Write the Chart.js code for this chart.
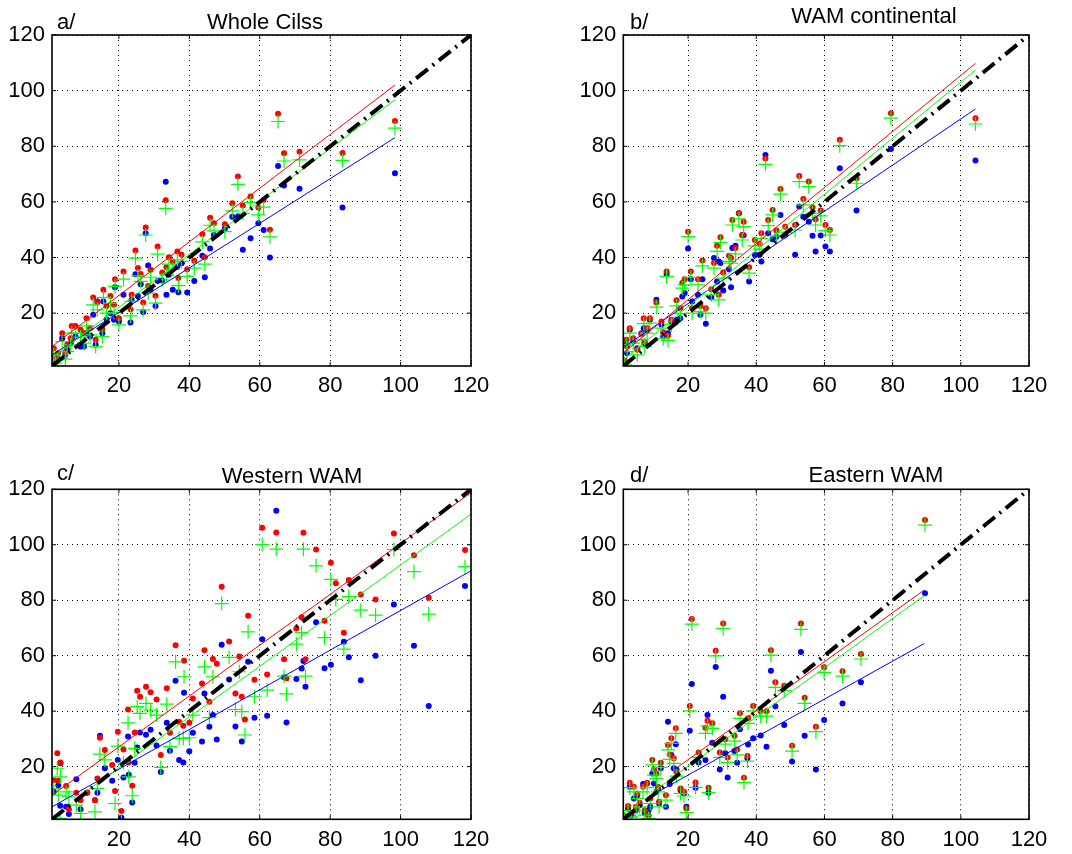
<!DOCTYPE html>
<html>
<head>
<meta charset="utf-8">
<script src="https://cdn.jsdelivr.net/npm/chart.js@4.4.1/dist/chart.umd.min.js"></script>
<style>
  body { margin: 0; background: #fff; }
  #wrap { position: relative; width: 1072px; height: 854px; }
  canvas { position: absolute; }
</style>
</head>
<body>
<div id="wrap">
  <canvas id="chartA" width="536" height="427" style="left:0px;top:0px"></canvas>
  <canvas id="chartB" width="536" height="427" style="left:536px;top:0px"></canvas>
  <canvas id="chartC" width="536" height="427" style="left:0px;top:427px"></canvas>
  <canvas id="chartD" width="536" height="427" style="left:536px;top:427px"></canvas>
</div>
<script>
const tickValues = [20, 40, 60, 80, 100, 120];
const diagX = [1, 120];

// a/ Whole Cilss
const xA = [98.4, 65.2, 66.9, 71.3, 83.5, 53.8, 33.3, 27.6, 62.9, 61.1, 59.6, 57.4, 55.2, 52.2, 50.1, 47, 45.9, 43.7, 44.4, 41.4, 39.4, 37.8, 36.6, 36.9, 35.3, 34.2, 33.5, 32.3, 31, 30.4, 29, 28.3, 26.9, 26.2, 25.4, 24.7, 23.6, 23.3, 21.3, 18.9, 17.6, 20, 15.6, 12.7, 13.9, 16.5, 18.6, 15.3, 13.4, 10.8, 11.8, 9.1, 7.7, 6.6, 5.3, 3.9, 2.7, 1.5, 4.8, 6.3, 10.1, 2];
const redA = [89.1, 91.7, 77.5, 78, 77.6, 69.1, 60.6, 50.8, 50, 60.7, 58, 61.9, 58.7, 59.5, 52, 52.3, 54.3, 48.4, 40.1, 38.8, 35.8, 41, 42.2, 32.6, 38.6, 40.1, 36.5, 34.6, 44, 26.3, 35.6, 29.8, 23.8, 34.1, 36.2, 42.5, 26.6, 21.4, 35, 32.2, 26.2, 18.2, 28.4, 25.6, 23.8, 22.6, 23, 14.3, 10.4, 18.2, 14.6, 14, 15.4, 15.4, 8.6, 12.8, 5.6, 7.4, 5.9, 11, 12.8, 4.4];
const greenA = [86.5, 88.9, 74.7, 75.1, 74.9, 66.3, 57.7, 48.1, 47.4, 58.1, 55.3, 59.8, 55.9, 56.8, 49.3, 49.6, 51.6, 45.6, 37.6, 36.2, 33.2, 38.6, 39.2, 29.9, 35.8, 37.6, 33.8, 32, 41.2, 23.6, 32.9, 27.2, 21.2, 31.4, 33.4, 39.8, 24.2, 19, 32.2, 29.6, 23.6, 15.8, 25.6, 23, 21.2, 20, 20.2, 11.6, 8, 15.4, 12.2, 11.4, 12.8, 12.8, 6.2, 9.8, 3.2, 5, 3.5, 8.6, 9.2, 2];
const blueA = [70.3, 72.9, 65.9, 64.7, 58, 54.7, 67.2, 48.7, 40, 49.9, 52.3, 46.9, 42.8, 54.7, 50.4, 48.1, 43.2, 40.6, 32.9, 31.6, 27.4, 37.9, 36.8, 27.5, 28.4, 33.8, 26.6, 31.7, 31.6, 22.6, 28.4, 37.1, 20.4, 30.4, 26.2, 34, 24.8, 16.6, 26.6, 29.3, 20, 17, 24.2, 19.4, 24.2, 17.8, 17.6, 12.8, 8.6, 12.8, 11.6, 8, 11.6, 10.4, 6.8, 11, 3.5, 4.4, 5, 9.2, 8, 2.6];
const fitRedA = [[1, 8], [98.4, 102]];
const fitGreenA = [[1, 4], [98.4, 96.7]];
const fitBlueA = [[1, 5], [98.4, 83.1]];

// b/ WAM continental
const xB = [104.3, 79.5, 64.5, 69.4, 42.7, 52.6, 55.4, 47.1, 53.8, 56.5, 58.9, 57.4, 60.3, 61.6, 51.4, 48.5, 45.9, 44.8, 43.5, 41.5, 41, 39.6, 37.9, 35.9, 34.9, 33, 36.3, 33.9, 32, 32.6, 30.3, 29.5, 28.5, 27.6, 29, 26.8, 24.2, 22.9, 23.6, 25.2, 20.8, 21.2, 20, 19, 18.3, 16.6, 17.7, 13.7, 10.7, 15.1, 14.1, 12.2, 12.7, 8.8, 7, 8, 6.3, 5.1, 3.9, 2.9, 1.9, 1.4, 2.1, 7.3];
const redB = [90.1, 91.9, 82.3, 68.5, 75.6, 69.3, 67.3, 64.6, 61, 58.1, 56.9, 53.8, 51.7, 49.9, 51.7, 51.1, 49.7, 57.1, 53.5, 48.7, 44.9, 46.3, 36.5, 48.1, 55.9, 53.5, 52.9, 43.4, 40.6, 39.8, 34.6, 47.3, 44.2, 38, 26.6, 28.6, 38.9, 32.2, 22.6, 21.8, 35, 21.8, 49.3, 32.2, 30.8, 24.6, 21.8, 35, 23.8, 17.6, 11.9, 17, 13.1, 18.2, 18.2, 14.6, 12.5, 6.8, 11, 14.6, 10.4, 3, 8, 9.8];
const greenB = [88, 90.1, 80.2, 66.7, 73.5, 67.3, 65.5, 62.8, 58.9, 55.9, 55, 51.7, 49.7, 48.1, 49.9, 49.1, 47.8, 55.3, 51.5, 46.9, 43, 44.2, 34.4, 46.3, 53.9, 51.7, 51.1, 41.3, 38.6, 38, 32.6, 45.4, 42.2, 36.2, 24.8, 26.6, 37, 30.2, 20.6, 20, 32.9, 20, 47.5, 30.2, 29, 22.6, 19.8, 33.2, 22.2, 15.8, 10.2, 14.6, 11, 16.4, 16.2, 12.8, 10.4, 5, 9.2, 12.8, 8.6, 1.4, 6.2, 8];
const blueB = [74.9, 79, 72.1, 56.9, 76.9, 58.3, 52.9, 55.3, 54.7, 47.8, 47.9, 42.2, 44, 42.2, 41, 48.1, 47.5, 46.6, 48.7, 38.6, 41, 41, 31.4, 48.1, 55.9, 43.4, 48, 44.2, 35.8, 29.3, 28.1, 38, 31.4, 39.8, 38.6, 25.7, 32.2, 26.6, 19.4, 16.2, 32.2, 24.2, 43.2, 27.2, 26, 17.6, 18.2, 34.1, 24.8, 17, 12.8, 15.8, 11.6, 17.6, 14.6, 13.8, 12.8, 7.4, 9.8, 14, 8.6, 2.6, 5.6, 9.2];
const fitRedB = [[1.4, 6.1], [104.3, 109.8]];
const fitGreenB = [[1.4, 3.6], [104.3, 107.4]];
const fitBlueB = [[1.4, 8], [104.3, 93.4]];

// c/ Western WAM
const xC = [60.7, 64.7, 72.4, 98.1, 76, 118.3, 80.2, 103.8, 81.6, 85.3, 88.7, 92.9, 108, 49.2, 56.7, 71.9, 78.4, 70.4, 83.9, 36.1, 44.3, 51.3, 38.5, 46.7, 47.8, 54.2, 66.9, 62.1, 58.5, 67.6, 73, 43.6, 53.1, 54.9, 45.7, 41, 25.2, 27.7, 29, 26, 30.7, 33.6, 22.6, 24.5, 19.7, 14.6, 16, 21.3, 18.1, 18.9, 20.7, 22.8, 23.8, 31.9, 34.5, 37.1, 38.3, 40, 55.8, 2.5, 3.4, 1.5, 2.8, 5, 7.9, 5.8, 9.1, 11, 13.2, 13.9, 3.3];
const redC = [106.1, 104.4, 104.3, 104.1, 98.3, 98.1, 93.5, 96.2, 86.1, 87.3, 82.1, 80.3, 80.9, 84.9, 74.4, 73.9, 72.6, 69.8, 68.3, 63.8, 62, 65.1, 58.2, 58.8, 57.1, 59.7, 58.7, 53.2, 51.3, 51.9, 58.7, 50, 46.4, 45.2, 43.4, 44.6, 47.4, 48.8, 46.8, 45.2, 44.2, 48.3, 40.6, 32.3, 32.6, 30.4, 26, 26.2, 20.6, 11.2, 4, 21.5, 13.1, 24.2, 32.2, 36.2, 34.7, 35.8, 37, 24.8, 21.5, 15.1, 14.9, 13, 10.6, 4.6, 7.9, 10.7, 7.9, 15.7, null];
const greenC = [100.1, 98.4, 98.4, 98.3, 92.4, 92.1, 87.5, 90.3, 80.3, 81.3, 76.4, 74.6, 75, 78.8, 68.6, 68.3, 66.5, 64.2, 62.4, 57.8, 56, 59.4, 52.4, 52.4, null, 54.2, 52.6, 47.6, 45.2, 46.2, 52.6, null, 40.6, 39.8, 37.7, 38.6, 41.6, 42.8, 40.4, 39.2, 38.6, 42.5, 35.8, 26.6, 27.4, 24.5, 22.4, 21.4, null, 6.7, 0.7, 16.3, 9.5, 19.7, 27.2, 30.2, 30.2, 30.4, 31.4, 19.4, 16.3, 12.1, 9.7, 10.9, 6.1, 9.1, 3.1, null, 3.7, 12.1, 1.3];
const blueC = [65.9, 112.3, 58.1, 78.5, 72.1, 85.1, 56.7, 63.6, null, 59.4, 51.1, 60, 41.9, 63.9, 57.8, 55.4, 55.5, 51.6, 65, 51, 46.4, 51.4, 46.6, 38.6, 29.8, null, 52.2, 38.3, 37.6, 35.9, 48.8, 29.1, 34.5, 29.1, 34.4, 32.2, 26.9, 31.5, 33.3, 32.3, 27.6, 35.8, 30.9, 21.4, 22.4, 31.1, 19.4, 16.1, 14.9, null, 1.6, 17.1, 7.1, 18.1, 25.7, 22.4, 21.5, 25.5, null, null, 21.2, 10.9, 13.3, 5.5, 15.4, 2.9, 4.6, 10.6, 7.9, 10.6, 5.9];
const fitRedC = [[1, 9.7], [120, 118.8]];
const fitGreenC = [[7.2, 7.9], [120, 111]];
const fitBlueC = [[1, 5.5], [120, 90.6]];

// d/ Eastern WAM
const xD = [89.5, 70.7, 65.3, 59.9, 57.5, 54.2, 53.1, 50.5, 48.2, 45.6, 44.3, 43, 41.3, 39.1, 37.6, 37.4, 36.4, 35.2, 34.4, 33.6, 31.6, 30.9, 30.3, 29.3, 28.1, 27.1, 25.7, 25.1, 26, 23.1, 22.2, 21.1, 20.5, 19.5, 18.8, 17.8, 16.4, 16.6, 15.8, 15.1, 14.1, 14.6, 13.5, 12, 10.7, 9.5, 10, 11.2, 11.5, 8.9, 8, 6.8, 5.8, 5.1, 4.1, 2.9, 2.4, 1.4, 3.4, 4.7, 7.3, 8.4];
const redD = [108.9, 60.6, 54.4, 55.8, 34.4, 44.8, 71.6, 27.5, 49.2, 50.4, 62, 40, 40, 41.9, 37.4, 23.8, 16, 39.2, 26.2, 31.1, 23.3, 29.9, 71.6, 25.1, 61.8, 35.6, 36.5, 34, 12.4, 25.1, 14.3, 73.2, 41.9, 4.9, 10.9, 12.1, 33.8, 18.1, 23, 30.2, 27.8, 24.4, 9.7, 21.4, 17.5, 22.4, 19, 12.7, 7.3, 8.5, 14.2, 12.7, 7, 10.3, 12.7, 14.2, 5.8, 2.2, 3.4, 5.5, 4.3, 2.5];
const greenD = [107.1, 58.8, 52.6, 54, 32.6, 42.8, 69.5, 25.6, 47.4, 48.6, 60.2, 38.2, 38.2, 40.1, 35.6, 22, 14.2, 37.4, 24.2, 29.2, 21.5, 28.1, 69.8, 23.3, 59.9, 33.8, 34.7, 32, 10.6, 23.3, 12.5, 71.4, 40.1, 3.4, 9.4, 10.3, 32, 16.6, 21.2, 28.4, 26, 22.6, 7.9, 19.7, 15.7, 20.6, 16.9, 10.9, 5.5, 6.7, 12.4, 10.9, 5.5, 8.5, 10.9, 12.4, 4.1, 1, 1.9, 4, 2.5, 1.3];
const blueD = [82.5, 50.4, 42.8, 36.8, 19, 31.1, 61.3, 21.8, 35, 41.8, 54.6, 27.2, 31.2, 30.2, 28, 23, null, 33.5, 21.4, 25.6, 16.1, 24.8, 45.2, 19, 55.9, 28.6, 38.6, 22.4, 10.6, 21.5, 12.4, 49.8, 32.9, 5.5, 10.3, 11.5, 28.1, 19, 19.4, 24.2, 36.2, 13.7, 5.5, 19.4, 10.9, 17.5, 13.9, 12.1, 6.7, 5.5, 13.9, 13.7, 6.1, 9.7, 8.5, 12.7, 4.9, 0.7, 2.5, 4.3, 3.1, 4.3];
const fitRedD = [[16.6, 19.5], [89.3, 83.7]];
const fitGreenD = [[10, 11.2], [89.3, 81.7]];
const fitBlueD = [[10, 10.1], [89.3, 64.4]];

const FONT = '"Liberation Sans", Arial, Helvetica, sans-serif';

function toPoints(xs, ys) {
    var out = [];
    for (var i = 0; i < xs.length; i++) {
        if (ys[i] !== null) out.push({ x: xs[i], y: ys[i] });
    }
    return out;
}

function pairPoints(pairs) {
    return pairs.map(p => ({ x: p[0], y: p[1] }));
}

// box round the axes, inward ticks and the panel titles
const framePlugin = {
    id: 'frame',
    afterDraw(chart, args, opts) {
        const ctx = chart.ctx;
        const a = chart.chartArea;
        const sx = chart.scales.x, sy = chart.scales.y;
        ctx.save();
        ctx.strokeStyle = '#000';
        ctx.lineWidth = 1.6;
        ctx.strokeRect(a.left, a.top, a.right - a.left, a.bottom - a.top);
        ctx.lineWidth = 1;
        ctx.beginPath();
        tickValues.forEach(v => {
            const px = sx.getPixelForValue(v);
            const py = sy.getPixelForValue(v);
            ctx.moveTo(px, a.bottom); ctx.lineTo(px, a.bottom - 4);
            ctx.moveTo(px, a.top); ctx.lineTo(px, a.top + 4);
            ctx.moveTo(a.left, py); ctx.lineTo(a.left + 4, py);
            ctx.moveTo(a.right, py); ctx.lineTo(a.right - 4, py);
        });
        ctx.stroke();
        ctx.fillStyle = '#000';
        ctx.font = '22px ' + FONT;
        ctx.textBaseline = 'alphabetic';
        ctx.textAlign = 'left';
        ctx.fillText(opts.label, opts.labelX, opts.labelY);
        ctx.textAlign = 'center';
        ctx.fillText(opts.title, opts.titleX, opts.titleY);
        ctx.restore();
    }
};

function makePanel(id, p) {
    var ctx = document.getElementById(id).getContext('2d');
    return new Chart(ctx, {
        type: 'scatter',
        data: {
            datasets: [
                {
                    data: pairPoints([[diagX[0], diagX[0]], [diagX[1], diagX[1]]]),
                    showLine: true, pointRadius: 0, borderColor: '#000', borderWidth: 4,
                    borderDash: [15, 6, 2, 6]
                },
                { data: pairPoints(p.fitRed), showLine: true, pointRadius: 0, borderColor: '#ff0000', borderWidth: 1 },
                { data: pairPoints(p.fitGreen), showLine: true, pointRadius: 0, borderColor: '#00ff00', borderWidth: 1 },
                { data: pairPoints(p.fitBlue), showLine: true, pointRadius: 0, borderColor: '#0000ff', borderWidth: 1 },
                {
                    data: toPoints(p.x, p.green), pointStyle: 'cross', pointRadius: 7,
                    borderColor: '#00ff00', backgroundColor: '#00ff00', borderWidth: 1.2
                },
                {
                    data: toPoints(p.x, p.red), pointStyle: 'circle', pointRadius: 3,
                    backgroundColor: '#ff0000', borderWidth: 0
                },
                {
                    data: toPoints(p.x, p.blue), pointStyle: 'circle', pointRadius: 3,
                    backgroundColor: '#0000ff', borderWidth: 0
                }
            ]
        },
        options: {
            responsive: false,
            animation: false,
            devicePixelRatio: 1,
            layout: { padding: p.padding },
            plugins: {
                legend: { display: false },
                tooltip: { enabled: false },
                frame: p.titles
            },
            scales: {
                x: {
                    type: 'linear', min: 1, max: 120,
                    afterBuildTicks: s => { s.ticks = tickValues.map(v => ({ value: v })); },
                    afterFit: s => { s.height = 30; },
                    grid: { color: '#000', lineWidth: 1, drawTicks: false },
                    border: { display: false, dash: [1, 4] },
                    ticks: { color: '#000', font: { family: FONT, size: 22 }, padding: 7, maxRotation: 0, autoSkip: false }
                },
                y: {
                    type: 'linear', min: 1, max: 120,
                    afterBuildTicks: s => { s.ticks = tickValues.map(v => ({ value: v })); },
                    afterFit: s => { s.width = 50; },
                    grid: { color: '#000', lineWidth: 1, drawTicks: false },
                    border: { display: false, dash: [1, 4] },
                    ticks: { color: '#000', font: { family: FONT, size: 22 }, padding: 7, autoSkip: false }
                }
            }
        },
        plugins: [framePlugin]
    });
}

makePanel('chartA', {
    x: xA, red: redA, green: greenA, blue: blueA,
    fitRed: fitRedA, fitGreen: fitGreenA, fitBlue: fitBlueA,
    padding: { left: 2, right: 65, top: 35, bottom: 31 },
    titles: { label: 'a/', labelX: 57, labelY: 29, title: 'Whole Cilss', titleX: 265, titleY: 29 }
});
makePanel('chartB', {
    x: xB, red: redB, green: greenB, blue: blueB,
    fitRed: fitRedB, fitGreen: fitGreenB, fitBlue: fitBlueB,
    padding: { left: 37.3, right: 43, top: 35, bottom: 31 },
    titles: { label: 'b/', labelX: 94, labelY: 29, title: 'WAM continental', titleX: 338, titleY: 23 }
});
makePanel('chartC', {
    x: xC, red: redC, green: greenC, blue: blueC,
    fitRed: fitRedC, fitGreen: fitGreenC, fitBlue: fitBlueC,
    padding: { left: 2, right: 65, top: 62.3, bottom: 4.7 },
    titles: { label: 'c/', labelX: 57, labelY: 53, title: 'Western WAM', titleX: 292, titleY: 55.5 }
});
makePanel('chartD', {
    x: xD, red: redD, green: greenD, blue: blueD,
    fitRed: fitRedD, fitGreen: fitGreenD, fitBlue: fitBlueD,
    padding: { left: 37.3, right: 43, top: 62.3, bottom: 4.7 },
    titles: { label: 'd/', labelX: 94, labelY: 54.5, title: 'Eastern WAM', titleX: 340, titleY: 54.5 }
});
</script>
</body>
</html>
